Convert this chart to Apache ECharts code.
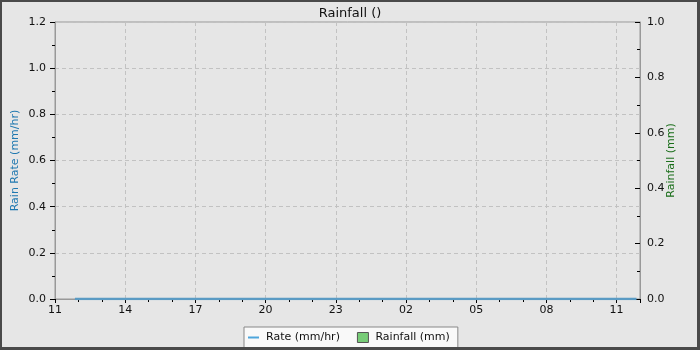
<!DOCTYPE html>
<html>
<head>
<meta charset="utf-8">
<style>html,body{margin:0;padding:0;background:#e6e6e6}#c{width:700px;height:350px}</style>
<script src="https://cdn.jsdelivr.net/npm/echarts@6/dist/echarts.min.js"></script>
</head>
<body>
<div id="c"></div>
<script>
// Data
var titleText = 'Rainfall ()';
var xTickLabels = ['11', '14', '17', '20', '23', '02', '05', '08', '11'];
var rateTimes = ['11:51','12:51','13:51','14:51','15:51','16:51','17:51','18:51','19:51','20:51','21:51','22:51','23:51','00:51','01:51','02:51','03:51','04:51','05:51','06:51','07:51','08:51','09:51','10:51','11:51'];
var rateValues = [0,0,0,0,0,0,0,0,0,0,0,0,0,0,0,0,0,0,0,0,0,0,0,0,0];
var rainTimes = ['12:00','13:00','14:00','15:00','16:00','17:00','18:00','19:00','20:00','21:00','22:00','23:00','00:00','01:00','02:00','03:00','04:00','05:00','06:00','07:00','08:00','09:00','10:00','11:00'];
var rainValues = [0,0,0,0,0,0,0,0,0,0,0,0,0,0,0,0,0,0,0,0,0,0,0,0];

var startHour = 11;
function toOffsets(times) {
  var out = [], prev = -1, day = 0;
  times.forEach(function (t) {
    var p = t.split(':'), h = +p[0] + (+p[1]) / 60;
    var abs = h + day * 24;
    if (abs < prev) { day++; abs += 24; }
    prev = abs;
    out.push(abs - startHour);
  });
  return out;
}
var rateX = toOffsets(rateTimes), rainX = toOffsets(rainTimes);
var rateData = rateX.map(function (x, i) { return [x, rateValues[i]]; });
var rainData = rainX.map(function (x, i) { return [x, rainValues[i]]; });

var font = 'DejaVu Sans';
var chart = echarts.init(document.getElementById('c'), null, {renderer: 'canvas'});
chart.setOption({
  backgroundColor: '#e6e6e6',
  animation: false,
  textStyle: {fontFamily: font},
  title: {text: titleText, left: 'center', top: 2,
    textStyle: {fontFamily: font, fontSize: 13, fontWeight: 'normal', color: '#111'}},
  grid: {left: 55, right: 60, top: 22, bottom: 51, containLabel: false, outerBoundsMode: 'none',
    show: true, borderColor: '#999', borderWidth: 1, backgroundColor: 'transparent'},
  legend: {
    left: 244, top: 327, orient: 'horizontal',
    backgroundColor: '#f9f9f9', borderColor: '#888', borderWidth: 1,
    padding: [5, 8, 6, 4], itemGap: 17, itemWidth: 11, itemHeight: 10,
    textStyle: {fontFamily: font, fontSize: 11, color: '#111', padding: [0, 0, 0, 2]},
    data: [
      {name: 'Rate (mm/hr)', icon: 'path://M0,0H11V2H0Z', itemStyle: {color: '#4ea6dc', borderWidth: 0}},
      {name: 'Rainfall (mm)', icon: 'rect', itemStyle: {color: '#77cc77', borderColor: '#555', borderWidth: 1}}
    ]
  },
  xAxis: {
    type: 'value', min: 0, max: 25, interval: 3, z: 0,
    axisLine: {show: true, onZero: false, lineStyle: {color: '#999', width: 1}},
    axisTick: {show: true, length: 4, lineStyle: {color: '#000'}},
    minorTick: {show: true, splitNumber: 3, length: 3, lineStyle: {color: '#000'}},
    axisLabel: {margin: 6, fontSize: 11, color: '#111', fontFamily: font,
      formatter: function (v) { var i = Math.round(v / 3); return xTickLabels[i] !== undefined ? xTickLabels[i] : ''; },
      showMaxLabel: false},
    splitLine: {show: true, lineStyle: {color: '#c2c2c2', type: [4, 3], width: 1}}
  },
  yAxis: [
    {
      type: 'value', min: 0, max: 1.2, interval: 0.2, position: 'left', z: 0,
      name: 'Rain Rate (mm/hr)', nameLocation: 'middle', nameRotate: 90, nameGap: 34, nameMoveOverlap: false,
      nameTextStyle: {color: '#1f78b0', fontSize: 11, fontFamily: font},
      axisLine: {show: true, lineStyle: {color: '#999'}},
      axisTick: {show: true, length: 5, lineStyle: {color: '#000'}},
      minorTick: {show: true, splitNumber: 2, length: 3, lineStyle: {color: '#000'}},
      axisLabel: {margin: 9, fontSize: 11, color: '#111', fontFamily: font,
        formatter: function (v) { return v.toFixed(1); }},
      splitLine: {show: true, lineStyle: {color: '#c2c2c2', type: [4, 3], width: 1}}
    },
    {
      type: 'value', min: 0, max: 1.0, interval: 0.2, position: 'right', z: 0,
      name: 'Rainfall (mm)', nameLocation: 'middle', nameRotate: 90, nameGap: 26, nameMoveOverlap: false,
      nameTextStyle: {color: '#1a6e1a', fontSize: 11, fontFamily: font},
      axisLine: {show: true, lineStyle: {color: '#999'}},
      axisTick: {show: true, inside: true, length: 5, lineStyle: {color: '#000'}},
      minorTick: {show: true, splitNumber: 2, length: 3, lineStyle: {color: '#000'}},
      axisLabel: {margin: 7, fontSize: 11, color: '#111', fontFamily: font,
        formatter: function (v) { return v.toFixed(1); }},
      splitLine: {show: false}
    }
  ],
  series: [
    {name: 'Rainfall (mm)', type: 'bar', yAxisIndex: 1, data: rainData, barWidth: 14,
      itemStyle: {color: '#77cc77', borderWidth: 0}},
    {name: 'Rate (mm/hr)', type: 'line', yAxisIndex: 0, data: rateData, symbol: 'none',
      lineStyle: {color: '#5a9bc4', width: 2.5}, z: 10}
  ],
  graphic: [
    {type: 'rect', silent: true, z: 100, shape: {x: 1, y: 1, width: 697, height: 347},
      style: {fill: 'none', stroke: '#4a4a4a', lineWidth: 2}},
    {type: 'line', silent: true, z: 100, shape: {x1: 699.5, y1: 0, x2: 699.5, y2: 350}, style: {stroke: '#4a4a4a', lineWidth: 1}},
    {type: 'line', silent: true, z: 100, shape: {x1: 0, y1: 349.5, x2: 700, y2: 349.5}, style: {stroke: '#4a4a4a', lineWidth: 1}}
  ]
});
</script>
</body>
</html>
